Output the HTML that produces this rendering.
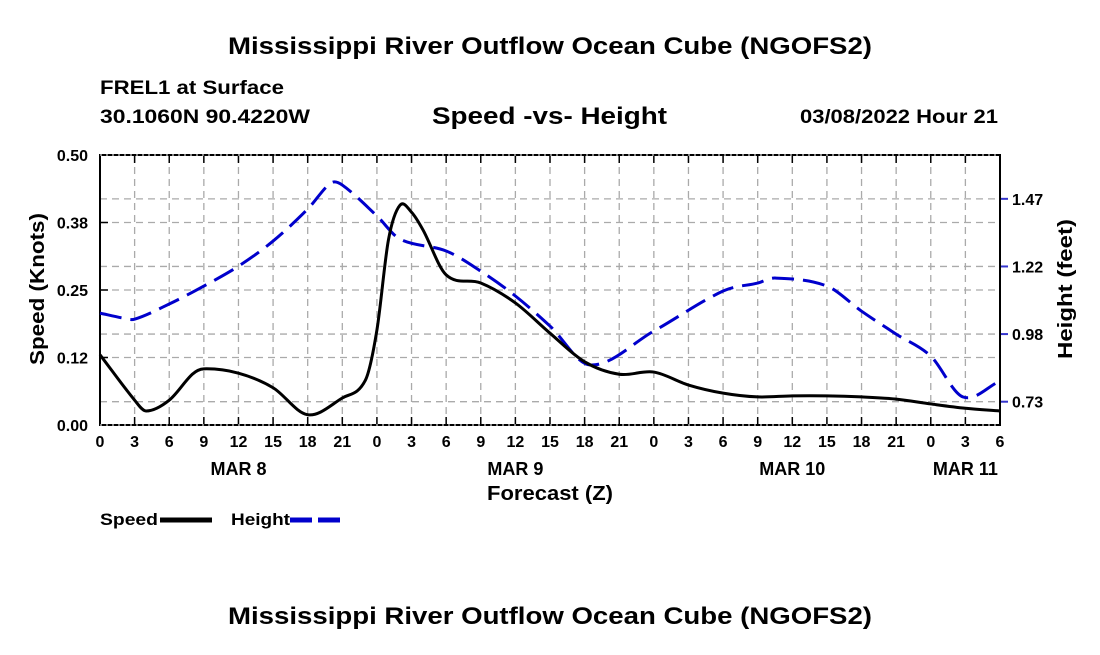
<!DOCTYPE html>
<html><head><meta charset="utf-8"><style>
body{margin:0;background:#fff;width:1100px;height:650px;overflow:hidden;font-family:"Liberation Sans",sans-serif}
text{font-family:"Liberation Sans",sans-serif;font-weight:bold;fill:#000}
</style></head><body>
<svg id="chart" width="1100" height="650" xmlns="http://www.w3.org/2000/svg">
<text x="228" y="54" font-size="24" textLength="644" lengthAdjust="spacingAndGlyphs">Mississippi River Outflow Ocean Cube (NGOFS2)</text>
<text x="100" y="94" font-size="19" textLength="184" lengthAdjust="spacingAndGlyphs">FREL1 at Surface</text>
<text x="100" y="123" font-size="19" textLength="210" lengthAdjust="spacingAndGlyphs">30.1060N  90.4220W</text>
<text x="432" y="124" font-size="24" textLength="235" lengthAdjust="spacingAndGlyphs">Speed -vs- Height</text>
<text x="800" y="123" font-size="19" textLength="198" lengthAdjust="spacingAndGlyphs">03/08/2022 Hour 21</text>
<g id="grid"></g>
<g id="axes"></g>
<g id="series"></g>
<text transform="translate(44,289) rotate(-90)" font-size="20" text-anchor="middle" textLength="152" lengthAdjust="spacingAndGlyphs">Speed (Knots)</text>
<text transform="translate(1072,289) rotate(-90)" font-size="20" text-anchor="middle" textLength="140" lengthAdjust="spacingAndGlyphs">Height (feet)</text>
<text x="487" y="500" font-size="20" textLength="126" lengthAdjust="spacingAndGlyphs">Forecast (Z)</text>
<g>
<text x="100" y="525" font-size="17" textLength="58" lengthAdjust="spacingAndGlyphs">Speed</text>
<line x1="160" y1="520" x2="212" y2="520" stroke="#000" stroke-width="5"/>
<text x="231" y="525" font-size="17" textLength="59" lengthAdjust="spacingAndGlyphs">Height</text>
<line x1="290" y1="520" x2="342" y2="520" stroke="#0000cc" stroke-width="5" stroke-dasharray="22,6"/>
</g>
<text x="228" y="624" font-size="24" textLength="644" lengthAdjust="spacingAndGlyphs">Mississippi River Outflow Ocean Cube (NGOFS2)</text>
</svg>
<script>
const speedHours=[0,3,4,6,8,9,12,15,18,21,23,24,25,26,27,28,30,33,36,39,42,45,48,51,54,57,60,63,66,69,72,75,78];
const speedValues=[0.130,0.046,0.026,0.046,0.094,0.104,0.096,0.069,0.019,0.050,0.083,0.176,0.343,0.407,0.394,0.361,0.278,0.263,0.226,0.170,0.117,0.094,0.098,0.074,0.059,0.052,0.054,0.054,0.052,0.048,0.039,0.031,0.026];
const heightHours=[0,2,3,6,9,12,15,18,20,21,24,26,30,33,36,39,42.5,48,54,57,58.5,63,66,69,72,74.8,78];
const heightValues=[1.056,1.038,1.034,1.089,1.154,1.226,1.317,1.433,1.527,1.520,1.408,1.324,1.281,1.208,1.118,1.009,0.868,0.991,1.136,1.165,1.183,1.154,1.063,0.980,0.900,0.752,0.810];
const xTickLabels=["0","3","6","9","12","15","18","21","0","3","6","9","12","15","18","21","0","3","6","9","12","15","18","21","0","3","6"];
const dayLabels=["MAR 8","MAR 9","MAR 10","MAR 11"];
const dayHours=[12,36,60,75];
const yTicks=[0,0.125,0.25,0.375,0.5];
const yTickLabels=["0.00","0.12","0.25","0.38","0.50"];
const y2Ticks=[0.735,0.98,1.225,1.47];
const y2TickLabels=["0.73","0.98","1.22","1.47"];
const L=100,R=1000,T=155,B=425;
const xS=h=>L+h*(R-L)/78;
const yS=v=>B-v*(B-T)/0.5;
const y2S=v=>401.7-(v-0.735)*276;
const NS="http://www.w3.org/2000/svg";
function mk(tag,attrs,parent){const e=document.createElementNS(NS,tag);for(const k in attrs)e.setAttribute(k,attrs[k]);parent.appendChild(e);return e;}
const grid=document.getElementById('grid'),axes=document.getElementById('axes'),series=document.getElementById('series');
xTickLabels.forEach((t,i)=>{const x=xS(i*3);
 const g=mk('line',{x1:x,y1:T,x2:x,y2:B,stroke:'#aaa','stroke-width':1.3,'stroke-dasharray':'7,5'},grid);
 
 const tk=mk('line',{x1:x,y1:B,x2:x,y2:B-8,stroke:'#000','stroke-width':1.5},axes);
 
 const tt=mk('line',{x1:x,y1:T,x2:x,y2:T+8,stroke:'#000','stroke-width':1.5},axes);
 
 const lb=mk('text',{x:x,y:447,'font-size':16,'text-anchor':'middle'},axes);lb.textContent=t;
 });
dayLabels.forEach((d,i)=>{const lb=mk('text',{x:xS(dayHours[i]),y:475,'font-size':18,'text-anchor':'middle'},axes);lb.textContent=d;
 });
yTicks.forEach((v,i)=>{const y=yS(v);
 if(i>0&&i<yTicks.length-1){const g=mk('line',{x1:L,y1:y,x2:R,y2:y,stroke:'#aaa','stroke-width':1.3,'stroke-dasharray':'7,5'},grid);
 }
 const tk=mk('line',{x1:L,y1:y,x2:L+8,y2:y,stroke:'#000','stroke-width':1.5},axes);
 
 const lb=mk('text',{x:88,y:y+6,'font-size':16,'text-anchor':'end'},axes);lb.textContent=yTickLabels[i];
 });
y2Ticks.forEach((v,i)=>{const y=y2S(v);
 const g=mk('line',{x1:L,y1:y,x2:R,y2:y,stroke:'#aaa','stroke-width':1.3,'stroke-dasharray':'7,5'},grid);
 
 const tk=mk('line',{x1:R,y1:y,x2:R+8,y2:y,stroke:'#3333cc','stroke-width':2},axes);
 
 const lb=mk('text',{x:1012,y:y+6,'font-size':16},axes);lb.textContent=y2TickLabels[i];
 });
const fr=mk('rect',{x:L,y:T,width:R-L,height:B-T,fill:'none',stroke:'#000','stroke-width':2},axes);

[T,B].forEach(y=>{const d=mk('line',{x1:L,y1:y,x2:R,y2:y,stroke:'#fff','stroke-width':1,'stroke-dasharray':'2,4'},axes);
 });
function path(xs,ys){const n=xs.length,m=[];
 for(let i=0;i<n;i++){const a=Math.max(0,i-1),b=Math.min(n-1,i+1);m.push((ys[b]-ys[a])/(xs[b]-xs[a]));}
 let d=`M${xs[0]},${ys[0]}`;
 for(let i=0;i<n-1;i++){const dx=(xs[i+1]-xs[i])/3;
 d+=` C${xs[i]+dx},${ys[i]+m[i]*dx} ${xs[i+1]-dx},${ys[i+1]-m[i+1]*dx} ${xs[i+1]},${ys[i+1]}`;}return d;}
const hp=mk('path',{d:path(heightHours.map(xS),heightValues.map(y2S)),fill:'none',stroke:'#0000cc','stroke-width':3,'stroke-dasharray':'22,9'},series);

const sp=mk('path',{d:path(speedHours.map(xS),speedValues.map(yS)),fill:'none',stroke:'#000','stroke-width':3},series);

</script>
</body></html>
